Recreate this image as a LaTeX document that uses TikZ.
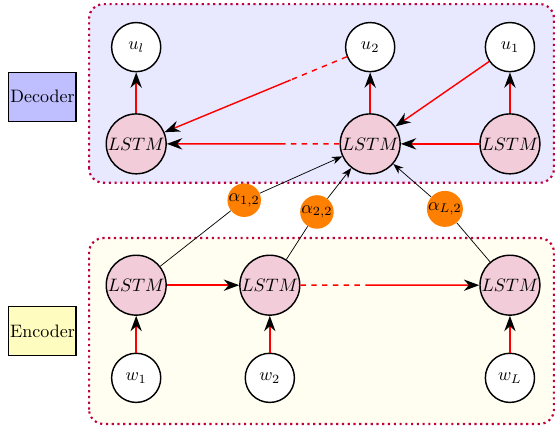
\documentclass[tikz,border=0pt]{standalone}
\usetikzlibrary{arrows.meta,calc}
\begin{document}
\begin{tikzpicture}[
    lstm/.style={circle,draw,thick,fill=purple!20,minimum size=1.17cm,inner sep=0pt},
    word/.style={circle,draw,thick,fill=white,minimum size=0.96cm,inner sep=0pt},
    weight/.style={circle,fill=orange,minimum size=0.6cm,inner sep=0pt},
    label/.style={draw,semithick,minimum width=1.31cm,minimum height=0.96cm,inner sep=0pt},
    flow/.style={red,thick,-{Stealth[black,length=3mm,width=2.2mm]}},
    attn/.style={-{Stealth[length=2mm,width=1.5mm]}}
  ]
  \useasboundingbox (0,0) rectangle (10.84,8.36);
  % boxes
  \draw[purple,very thick,dotted,rounded corners=8pt,fill=blue!9] (1.74,4.79) rectangle (10.82,8.28);
  \draw[purple,very thick,dotted,rounded corners=8pt,fill=yellow!6] (1.74,0.08) rectangle (10.82,3.71);
  \node[label,fill=blue!25] (dec) at (0.83,6.47) {Decoder};
  \node[label,fill=yellow!25] (enc) at (0.83,1.89) {Encoder};

  % decoder
  \node[word] (ul) at (2.66,7.44) {$u_l$};
  \node[word] (u2) at (7.23,7.44) {$u_2$};
  \node[word] (u1) at (9.96,7.44) {$u_1$};
  \node[lstm] (lstmd1) at (2.66,5.55) {$LSTM$};
  \node[lstm] (lstmd2) at (7.23,5.55) {$LSTM$};
  \node[lstm] (lstmd3) at (9.96,5.55) {$LSTM$};

  % encoder
  \node[lstm] (lstme1) at (2.66,2.79) {$LSTM$};
  \node[lstm] (lstme2) at (5.27,2.79) {$LSTM$};
  \node[lstm] (lstmeL) at (9.96,2.79) {$LSTM$};
  \node[word] (w1) at (2.66,0.98) {$w_1$};
  \node[word] (w2) at (5.27,0.98) {$w_2$};
  \node[word] (wL) at (9.96,0.98) {$w_L$};

  % attention weights
  \node[weight] (a12) at (4.77,4.45) {$\alpha_{1,2}$};
  \node[weight] (a22) at (6.19,4.22) {$\alpha_{2,2}$};
  \node[weight] (aL2) at (8.69,4.28) {$\alpha_{L,2}$};

  \coordinate (md) at ($(lstmd2)!0.385!(lstmd1)$);
  \coordinate (mu) at ($(u2)!0.34!(lstmd1)$);
  \coordinate (me) at ($(lstme2)!0.417!(lstmeL)$);

  \draw[flow] (lstmd1) -- (ul);
  \draw[flow] (lstmd2) -- (u2);
  \draw[flow] (lstmd3) -- (u1);
  \draw[flow] (lstmd3) -- (lstmd2);
  \draw[flow] (u1) -- (lstmd2);
  \draw[red,thick,dashed] (lstmd2) -- (md);
  \draw[flow] (md) -- (lstmd1);
  \draw[red,thick,dashed] (u2) -- (mu);
  \draw[flow] (mu) -- (lstmd1);

  \draw[flow] (w1) -- (lstme1);
  \draw[flow] (w2) -- (lstme2);
  \draw[flow] (wL) -- (lstmeL);
  \draw[flow] (lstme1) -- (lstme2);
  \draw[red,thick,dashed] (lstme2) -- (me);
  \draw[flow] (me) -- (lstmeL);

  \draw (lstme1) -- (a12);
  \draw[attn] (a12) -- (lstmd2);
  \draw (lstme2) -- (a22);
  \draw[attn] (a22) -- (lstmd2);
  \draw (lstmeL) -- (aL2);
  \draw[attn] (aL2) -- (lstmd2);
\end{tikzpicture}
\end{document}
